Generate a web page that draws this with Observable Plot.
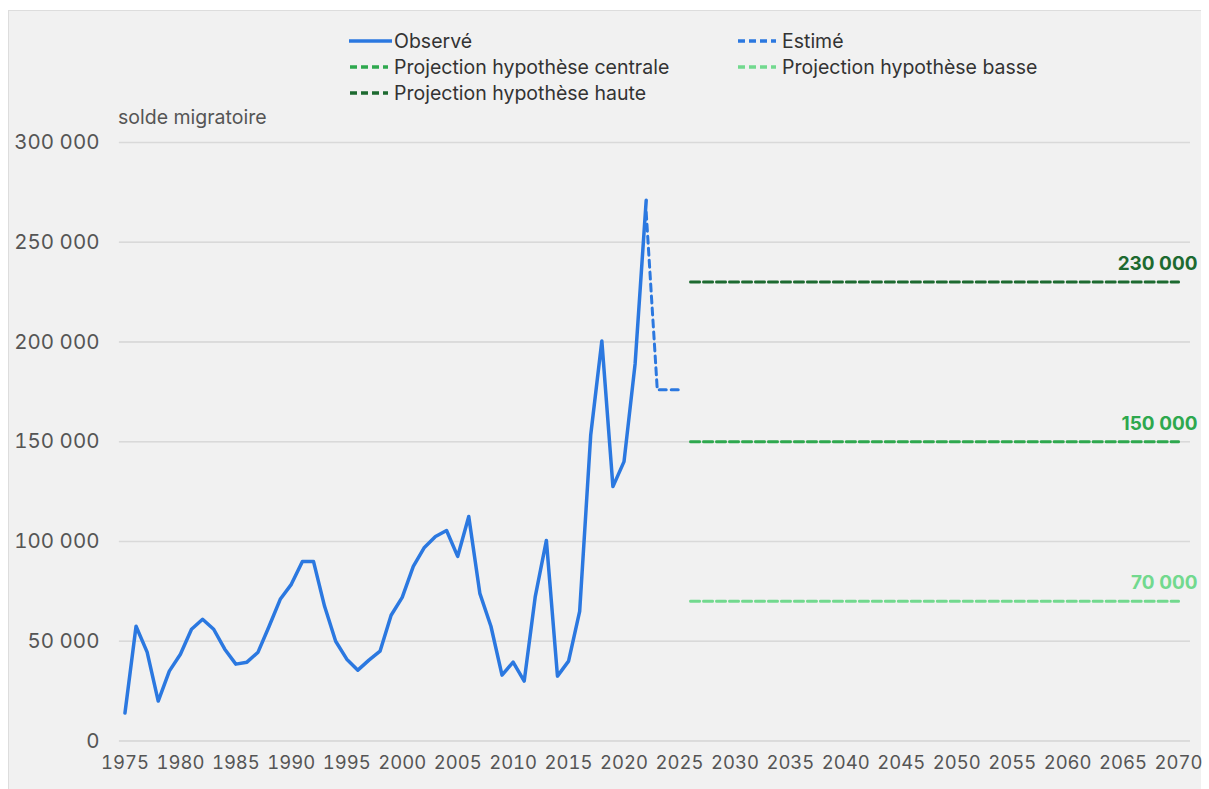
<!DOCTYPE html>
<html><head><meta charset="utf-8">
<script src="https://cdn.jsdelivr.net/npm/d3@7"></script>
<script src="https://cdn.jsdelivr.net/npm/@observablehq/plot@0.6"></script>
<style>
html,body{margin:0;padding:0;background:#fff;font-family:Inter,"Noto Sans",sans-serif;}
#panel{position:absolute;left:8px;top:10px;width:1193px;height:779px;background:#f1f1f1;border-left:1px solid #ddd;border-top:1px solid #ddd;box-sizing:border-box;}
.leg{position:absolute;display:flex;align-items:center;font-size:19.5px;color:#333;white-space:nowrap;}
#ylab{position:absolute;left:109px;top:94px;font-size:19.5px;color:#555;}
#chart{position:absolute;left:0;top:95px;}
</style></head>
<body>
<div id="panel">
  <div id="legend"></div>
  <div id="ylab">solde migratoire</div>
  <div id="chart"></div>
</div>
<script>
// ---- data ----
const observedYears = d3.range(1975, 2023);
const observedValues = [14000,57500,44500,20000,35000,43500,56000,61000,56000,46000,
  38500,39500,44500,57500,71000,78500,90000,90000,67500,50000,
  41000,35500,40500,45000,63000,72000,87500,97000,102500,105500,
  92500,112500,74000,57500,33000,39500,30000,72500,100500,32500,
  40000,65000,153500,200500,127500,140000,189000,271000];
const estimatedYears = [2022, 2023, 2024, 2025];
const estimatedValues = [265000, 176000, 176000, 176000];
const scenarioNames = ["Projection hypothèse haute", "Projection hypothèse centrale", "Projection hypothèse basse"];
const scenarioValues = [230000, 150000, 70000];
const projectionStart = 2026;
const projectionEnd = 2070;
const yTicks = [0, 50000, 100000, 150000, 200000, 250000, 300000];
const xTicks = d3.range(1975, 2071, 5);

const colors = {
  "Observé": "#2b78e0",
  "Estimé": "#2b78e0",
  "Projection hypothèse centrale": "#2ea84e",
  "Projection hypothèse basse": "#72d98e",
  "Projection hypothèse haute": "#1d6a30"
};
const fmt = d => d3.format(",")(d).replace(/,/g, " ");

const observed = observedYears.map((y, i) => ({year: y, value: observedValues[i]}));
const estimated = estimatedYears.map((y, i) => ({year: y, value: estimatedValues[i]}));
const projections = [];
scenarioNames.forEach((n, i) => {
  projections.push({name: n, year: projectionStart, value: scenarioValues[i]});
  projections.push({name: n, year: projectionEnd, value: scenarioValues[i]});
});
const projLabels = scenarioNames.map((n, i) => ({name: n, year: projectionEnd, value: scenarioValues[i]}));

const chart = Plot.plot({
  width: 1193,
  height: 680,
  marginLeft: 110,
  marginRight: 11,
  marginTop: 36,
  marginBottom: 45,
  style: {background: "transparent", fontFamily: "Inter, 'Noto Sans', sans-serif", overflow: "visible"},
  x: {domain: [1974.5, 2071.08], ticks: xTicks, tickFormat: d => String(d), label: null},
  y: {domain: [0, 300000], ticks: yTicks, tickFormat: fmt, label: null, grid: true},
  marks: [
    Plot.gridY(yTicks, {stroke: "#d9d9d9", strokeOpacity: 1, strokeWidth: 1.5}),
    Plot.axisY(yTicks, {tickSize: 0, tickPadding: 20, fontSize: 20.5, fill: "#555", tickFormat: fmt, label: null}),
    Plot.axisX(xTicks, {tickSize: 0, tickPadding: 15, fontSize: 18.5, fill: "#555", tickFormat: d => String(d), label: null}),
    Plot.line(projections, {x: "year", y: "value", z: "name", stroke: d => colors[d.name], strokeWidth: 3, strokeDasharray: "9,4"}),
    Plot.line(estimated, {x: "year", y: "value", stroke: colors["Estimé"], strokeWidth: 3, strokeDasharray: "7,5"}),
    Plot.line(observed, {x: "year", y: "value", stroke: colors["Observé"], strokeWidth: 3.5}),
    Plot.text(projLabels, {x: "year", y: "value", text: d => fmt(d.value), fill: d => colors[d.name], textAnchor: "end", dx: 19, dy: -18, fontSize: 19, fontWeight: "bold"})
  ]
});
document.getElementById("chart").appendChild(chart);

// ---- legend ----
const legendItems = [
  {name: "Observé", dash: null, left: 340, top: 30, gap: 2},
  {name: "Estimé", dash: "7,4", left: 729, top: 30, gap: 6},
  {name: "Projection hypothèse centrale", dash: "7,4", left: 341, top: 56, gap: 6},
  {name: "Projection hypothèse basse", dash: "7,4", left: 729, top: 56, gap: 6},
  {name: "Projection hypothèse haute", dash: "7,4", left: 341, top: 82, gap: 6}
];
const leg = document.getElementById("legend");
legendItems.forEach(it => {
  const d = document.createElement("div");
  d.className = "leg";
  d.style.left = it.left + "px";
  d.style.top = (it.top - 12) + "px";
  const w = it.dash ? 38 : 43;
  d.innerHTML = `<svg width="${w}" height="10" style="margin-right:${it.gap}px"><line x1="0" y1="5" x2="${w}" y2="5" stroke="${colors[it.name]}" stroke-width="3.5" ${it.dash ? `stroke-dasharray="${it.dash}"` : ""}/></svg><span>${it.name}</span>`;
  leg.appendChild(d);
});
</script>
</body></html>
